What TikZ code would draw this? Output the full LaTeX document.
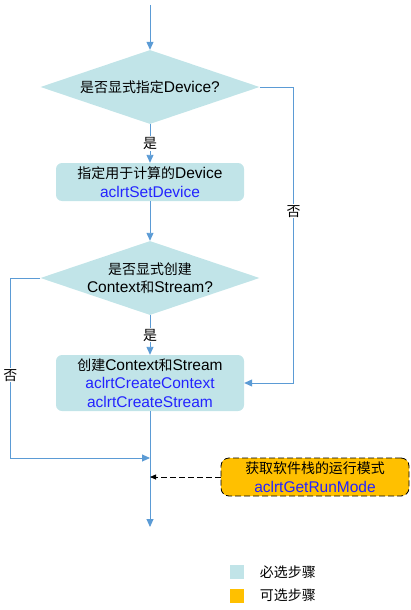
\documentclass[tikz,border=0pt]{standalone}
\usepackage{fontspec}
\usepackage{xcolor}
\setmainfont{Liberation Sans}
\newfontfamily\cjk[Scale=0.9]{Noto Sans CJK SC}
\newcommand{\zh}[1]{{\cjk #1}}
\definecolor{stepfill}{RGB}{193, 228, 232}
\definecolor{optfill}{RGB}{255, 192, 0}
\definecolor{flowblue}{RGB}{91, 155, 213}
\definecolor{apiblue}{RGB}{35, 35, 255}
\newcommand{\api}[1]{\textcolor{apiblue}{#1}}
\usetikzlibrary{shapes.geometric, arrows.meta, positioning}

\begin{document}
\begin{tikzpicture}[
    x=1pt, y=1pt,
    font=\fontsize{15.5}{18.5}\selectfont,
    decision/.style={diamond, fill=stepfill, aspect=3, inner sep=-2pt, minimum width=219pt, minimum height=74pt, align=center},
    stepbox/.style={rectangle, rounded corners=6pt, fill=stepfill, minimum width=188pt, minimum height=38pt, inner sep=1pt, align=center},
    optbox/.style={stepbox, rounded corners=8pt, draw=black, fill=optfill, dash pattern=on 6pt off 3pt, line width=0.8pt},
    flow/.style={-{Triangle[width=7pt, length=8pt]}, flowblue, line width=0.9pt},
    optflow/.style={-{Triangle[width=5pt, length=6pt]}, black, dash pattern=on 6pt off 3pt, line width=0.8pt},
    lbl/.style={fill=white, inner sep=1pt, text=black},
    keybox/.style={minimum size=14pt, inner sep=0pt}
]
    \useasboundingbox (0,0) rectangle (411,-610);

    \coordinate (start) at (150,-5);
    \node[decision] (devq) at (150,-87) {\zh{是否显式指定}Device?};
    \node[stepbox] (setdev) at (150,-182) {\zh{指定用于计算的}Device\\\api{aclrtSetDevice}};
    \node[decision] (ctxq) at (150,-278) {\zh{是否显式创建}\\Context\zh{和}Stream?};
    \node[stepbox, minimum height=56pt] (mkctx) at (150,-383) {\zh{创建}Context\zh{和}Stream\\\api{aclrtCreateContext}\\\api{aclrtCreateStream}};
    \node[optbox] (runmode) at (315,-477) {\zh{获取软件栈的运行模式}\\\api{aclrtGetRunMode}};
    \coordinate (merge) at (150,-458);
    \coordinate (query) at (150,-477);
    \coordinate (finish) at (150,-527);

    \draw[flow] (start) -- (devq);
    \draw[flow] (devq) -- node[lbl] {\zh{是}} (setdev);
    \draw[flow] (setdev) -- (ctxq);
    \draw[flow] (ctxq) -- node[lbl] {\zh{是}} (mkctx);
    \draw[flow] (devq.east) -- ++(34,0) |- node[lbl, pos=0.21] {\zh{否}} (mkctx.east);
    \draw[flow] (ctxq.west) -- ++(-30,0) |- node[lbl, pos=0.27] {\zh{否}} (merge);
    \draw[flow] (mkctx) -- (finish);
    \draw[optflow] (runmode) -- (query);

    % legend
    \node[keybox, fill=stepfill] (keyreq) at (236.5,-572) {};
    \node[keybox, fill=optfill] (keyopt) at (236.5,-595.5) {};
    \node[right=16pt of keyreq, inner sep=0pt] (keyreqtxt) {\zh{必选步骤}};
    \node[right=16pt of keyopt, inner sep=0pt] (keyopttxt) {\zh{可选步骤}};
\end{tikzpicture}
\end{document}
